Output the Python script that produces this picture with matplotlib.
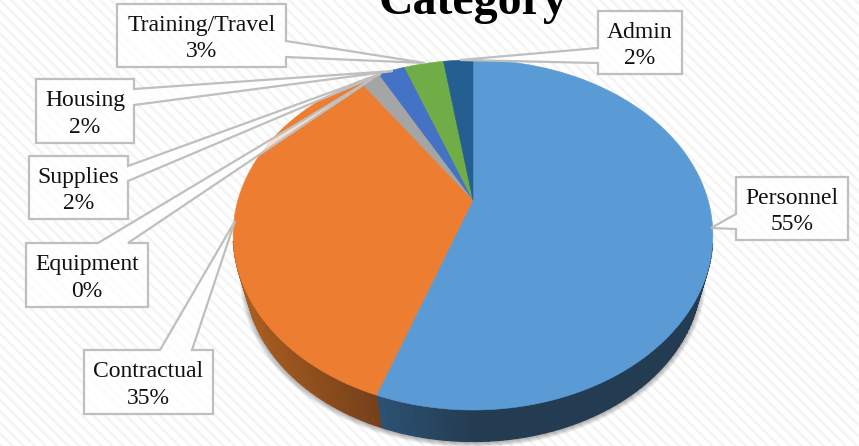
import numpy as np
import matplotlib
matplotlib.use('Agg')
import matplotlib.pyplot as plt
from matplotlib.patches import Polygon, Rectangle

categories = ['Personnel', 'Contractual', 'Equipment', 'Supplies', 'Housing', 'Training/Travel', 'Admin']
shares = [55.3, 35.0, 0.0, 1.7, 2.2, 3.2, 2.4]
percent_labels = ['55%', '35%', '0%', '2%', '2%', '3%', '2%']
top_colors = ['#5B9BD5', '#ED7D31', '#FFC000', '#A5A5A5', '#4472C4', '#70AD47', '#255E91']
side_light = ['#2C5272', '#A85C20', '#8a6c00', '#666666', '#2a4578', '#446a2b', '#163a5a']
side_dark = ['#233C52', '#74401A', '#8a6c00', '#666666', '#2a4578', '#446a2b', '#163a5a']

# callout layout in pixels: box x0, x1, y0, y1, side, attach a, attach b, tip x, tip y
callouts = {
    'Personnel': (736, 848, 177, 240, 'left', 214, 229, 711, 228),
    'Contractual': (84, 213, 350, 414, 'top', 160, 192, 235, 221),
    'Equipment': (26, 148, 243, 307, 'top', 98, 128, 372, 79),
    'Supplies': (29, 128, 156, 219, 'right', 166, 181, 381, 74),
    'Housing': (36, 134, 79, 143, 'right', 89, 105, 393, 71),
    'Training/Travel': (117, 286, 4, 67, 'right', 41, 57, 425, 63),
    'Admin': (598, 682, 11, 74, 'left', 48, 63, 460, 60),
}

W, H = 859, 446
fig = plt.figure(figsize=(W / 100, H / 100), dpi=100)
ax = fig.add_axes([0, 0, 1, 1])
ax.set_xlim(0, W)
ax.set_ylim(H, 0)
ax.axis('off')
plt.rcParams['hatch.linewidth'] = 1.8
plt.rcParams['font.family'] = ['Liberation Serif', 'DejaVu Serif']

ax.add_patch(Rectangle((0, 0), W, H, facecolor='white', edgecolor='#f4f4f4', hatch='\\\\\\', lw=0, zorder=0))


# pie is tilted, so the unit circle goes through a projective map
def project(theta, depth=0.0):
    u = np.sin(theta)
    v = np.cos(theta)
    d = 1 + 0.2 * v
    shrink = 1 - 0.05 * depth
    return 473 + 235 * shrink * u / d, 200 + 168 * shrink * (-v) / d + 42 * depth


edges = np.radians(np.concatenate([[0], np.cumsum(shares)]) / sum(shares) * 360)

# soft shadow under the pie
t = np.linspace(0, 2 * np.pi, 300)
sx, sy = project(t, depth=1.0)
for i in range(8):
    grow = 1 + 0.003 * (8 - i)
    ax.add_patch(Polygon(np.c_[473 + (sx - 473) * grow, 235 + (sy - 235) * grow + 1],
                         facecolor='#000000', alpha=0.04, lw=0, zorder=1))

# side wall, only the front is visible
for k in range(len(shares)):
    a, b = edges[k], edges[k + 1]
    steps = max(2, int((b - a) / np.radians(1.5)))
    tt = np.linspace(a, b, steps + 1)
    lo = np.array(matplotlib.colors.to_rgb(side_dark[k]))
    hi = np.array(matplotlib.colors.to_rgb(side_light[k]))
    for j in range(steps):
        if np.cos(tt[j]) > -0.25 and np.cos(tt[j + 1]) > -0.25:
            continue
        x0, y0 = project(tt[j])
        x1, y1 = project(tt[j + 1])
        x2, y2 = project(tt[j + 1], depth=1.0)
        x3, y3 = project(tt[j], depth=1.0)
        # shade by screen position, lighter away from the darkest front part
        if k == 0:
            f = np.clip((480 - x0) / 100, 0, 1)
        else:
            f = np.clip((380 - x0) / 130, 0, 1)
        col = tuple(lo + (hi - lo) * f)
        ax.add_patch(Polygon([(x0, y0), (x1, y1), (x2, y2), (x3, y3)], facecolor=col, edgecolor=col, lw=0.9, zorder=2))

# top face
for k in range(len(shares)):
    if shares[k] == 0:
        continue
    tt = np.linspace(edges[k], edges[k + 1], 120)
    x, y = project(tt)
    ax.add_patch(Polygon(np.c_[np.r_[473, x], np.r_[200, y]], facecolor=top_colors[k],
                         edgecolor=top_colors[k], lw=0.4, zorder=3))

ax.text(473, 14, 'Category', ha='center', va='baseline', fontsize=34.5, fontweight='bold', color='black', zorder=6)

# callouts
for name, pct in zip(categories, percent_labels):
    x0, x1, y0, y1, side, a, b, tx, ty = callouts[name]
    if side == 'left':
        pts = [(x0, y0), (x1, y0), (x1, y1), (x0, y1), (x0, b), (tx, ty), (x0, a)]
    elif side == 'right':
        pts = [(x0, y0), (x1, y0), (x1, a), (tx, ty), (x1, b), (x1, y1), (x0, y1)]
    else:
        pts = [(x0, y0), (a, y0), (tx, ty), (b, y0), (x1, y0), (x1, y1), (x0, y1)]
    ax.add_patch(Polygon(pts, closed=True, facecolor=(1, 1, 1, 0.75), edgecolor='#BFBFBF', lw=1.6, joinstyle='miter', zorder=5))
    ax.text((x0 + x1) / 2, (y0 + y1) / 2 + 3, name + '\n' + pct, ha='center', va='center', fontsize=17,
            color='#111111', linespacing=1.35, zorder=6)

fig.savefig('out.png', dpi=100)
